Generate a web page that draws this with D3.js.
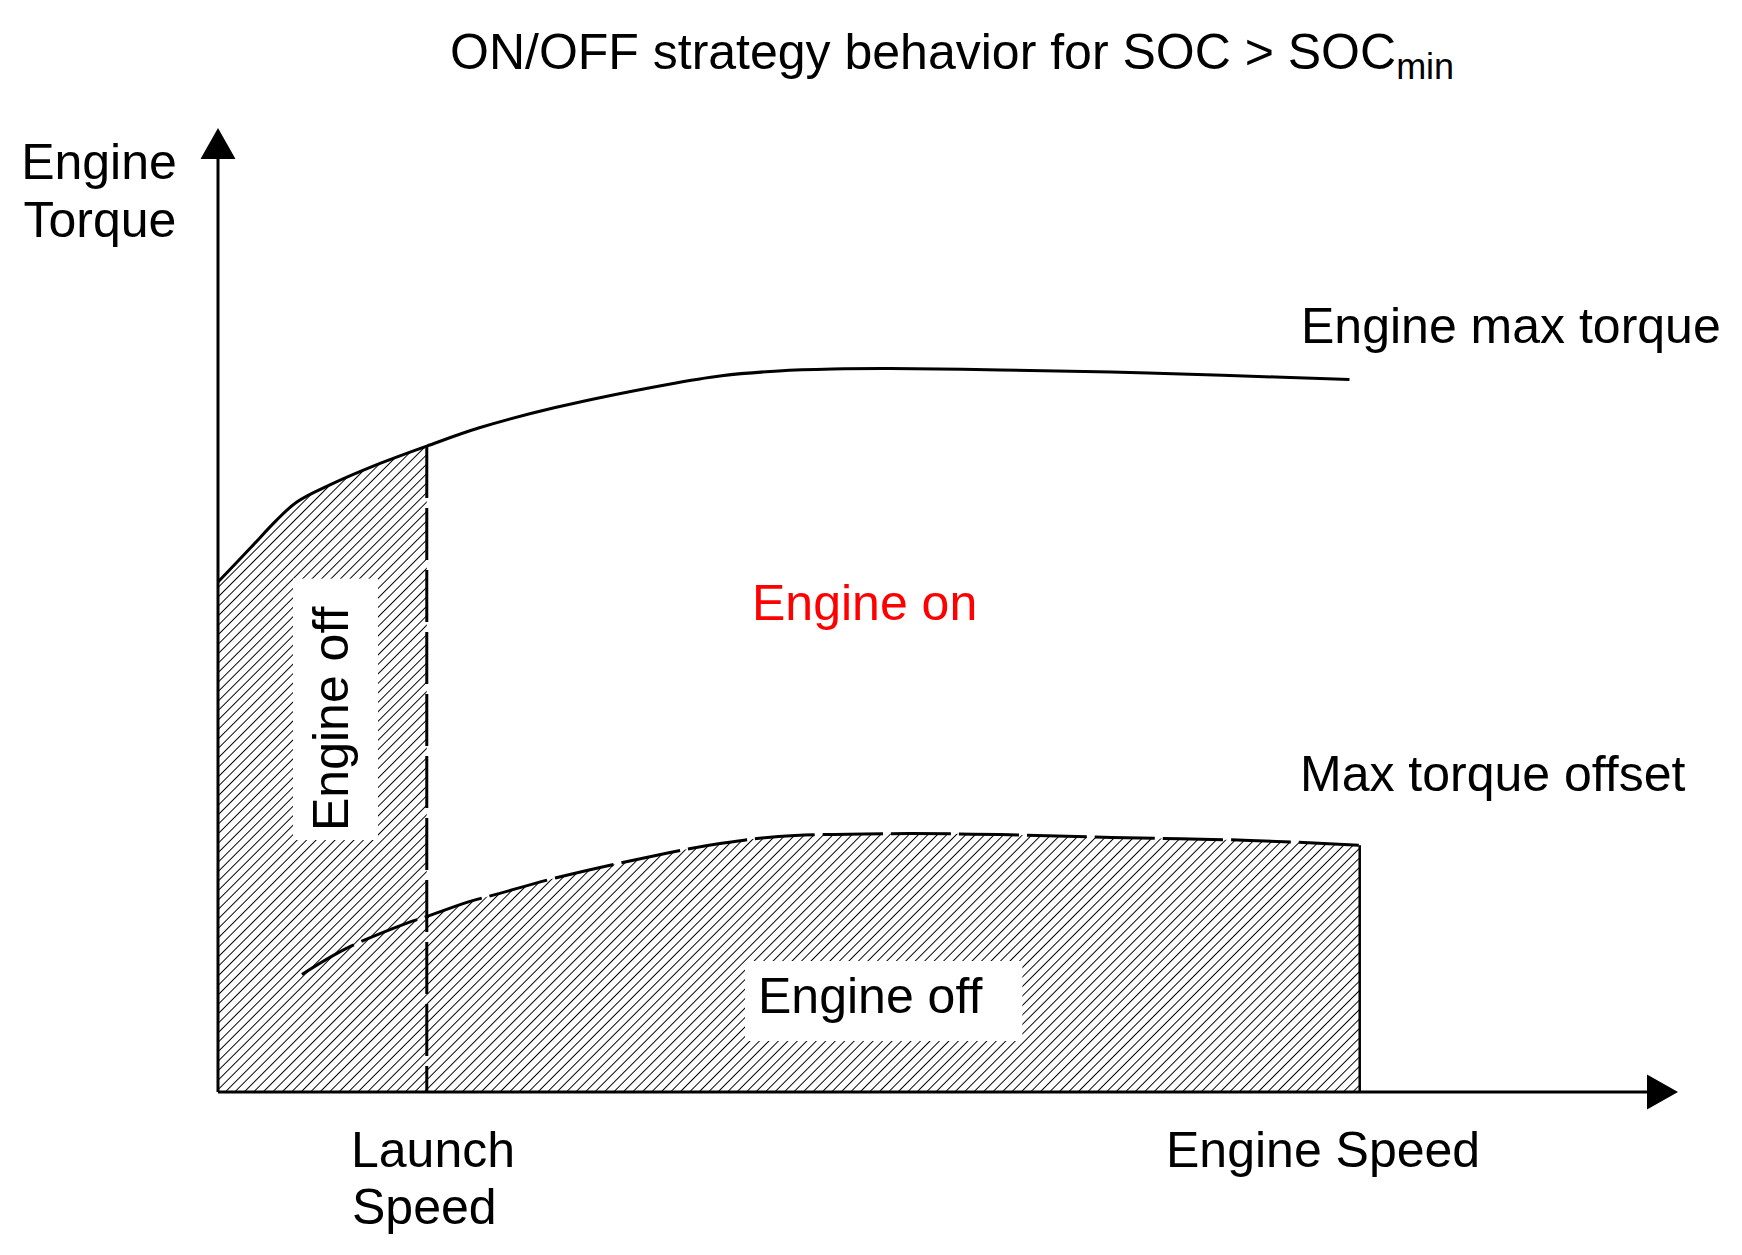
<!DOCTYPE html>
<html>
<head>
<meta charset="utf-8">
<script src="https://cdn.jsdelivr.net/npm/d3@7"></script>
<style>
  body { margin: 0; background: #fff; }
  text { font-family: "Liberation Sans", Arial, Helvetica, sans-serif; fill: #000; }
</style>
</head>
<body>
<div id="chart"></div>
<script>
// curve values (percent of axis length)
const maxTorqueSpeed = [0, 2.2, 4.0, 5.4, 7.7, 11.1, 14.3, 17.9, 23.1, 30.8, 34.5, 38.4, 42.1, 46.0, 53.6, 61.2, 68.8, 77.5];
const maxTorqueValue = [52.9, 56.4, 59.3, 61.2, 63.0, 65.2, 67.0, 68.9, 71.0, 73.4, 74.3, 74.8, 75.0, 75.05, 74.9, 74.7, 74.35, 73.9];
const offsetSpeed = [5.75, 8.8, 12.9, 14.3, 17.1, 19.3, 23.1, 30.8, 34.5, 38.4, 46.0, 53.6, 61.2, 70.7, 78.2];
const offsetValue = [12.2, 14.9, 17.5, 18.2, 19.7, 20.6, 22.2, 24.8, 25.8, 26.5, 26.8, 26.7, 26.4, 26.1, 25.6];
const launchSpeed = 14.3;
const offsetEndSpeed = 78.2;

// texts
const titleMain = "ON/OFF strategy behavior for SOC > SOC";
const titleSub = "min";
const yLabel = ["Engine", "Torque"];
const xLabel = "Engine Speed";
const launchLabel = ["Launch", "Speed"];
const maxLabel = "Engine max torque";
const offsetLabel = "Max torque offset";
const onLabel = "Engine on";
const offLabel = "Engine off";

const W = 1742, H = 1255;
const margin = {top: 128, right: 64, bottom: 163, left: 218},
  width = W - margin.left - margin.right,
  height = H - margin.top - margin.bottom;

const svg = d3.select("#chart").append("svg")
  .attr("width", W).attr("height", H);

// hatch pattern
svg.append("defs").append("pattern")
  .attr("id", "hatch")
  .attr("patternUnits", "userSpaceOnUse")
  .attr("width", 6.7).attr("height", 6.7)
  .attr("patternTransform", "rotate(45)")
  .append("line")
  .attr("x1", 3.35).attr("y1", -1).attr("x2", 3.35).attr("y2", 7.7)
  .attr("stroke", "#000").attr("stroke-width", 1.5)
  .attr("shape-rendering", "crispEdges");

const g = svg.append("g").attr("transform", `translate(${margin.left},${margin.top})`);

const x = d3.scaleLinear().domain([0, 100]).range([0, width]);
const y = d3.scaleLinear().domain([0, 100]).range([height, 0]);

const maxData = maxTorqueSpeed.map((s, i) => ({s: s, v: maxTorqueValue[i]}));
const offData = offsetSpeed.map((s, i) => ({s: s, v: offsetValue[i]}));

const curve = d3.curveCatmullRom.alpha(0.5);
const area = d3.area().curve(curve)
  .x(d => x(d.s)).y0(y(0)).y1(d => y(d.v));
const line = d3.line().curve(curve)
  .x(d => x(d.s)).y(d => y(d.v));

// hatched engine-off regions
g.append("path").datum(maxData.filter(d => d.s <= launchSpeed))
  .attr("d", area).attr("fill", "url(#hatch)");
g.append("path").datum(offData.filter(d => d.s >= launchSpeed))
  .attr("d", area).attr("fill", "url(#hatch)");

// engine max torque curve
g.append("path").datum(maxData)
  .attr("d", line).attr("fill", "none").attr("stroke", "#000").attr("stroke-width", 3);

// max torque offset curve
g.append("path").datum(offData)
  .attr("d", line).attr("fill", "none").attr("stroke", "#000").attr("stroke-width", 3)
  .attr("stroke-dasharray", "60,8");

// launch speed line
const launchTop = maxData.find(d => d.s === launchSpeed).v;
g.append("line")
  .attr("x1", x(launchSpeed)).attr("x2", x(launchSpeed))
  .attr("y1", y(launchTop)).attr("y2", y(0))
  .attr("stroke", "#000").attr("stroke-width", 3).attr("stroke-dasharray", "52,10");

// right edge of offset region
g.append("line")
  .attr("x1", x(offsetEndSpeed)).attr("x2", x(offsetEndSpeed))
  .attr("y1", y(offsetValue[offsetValue.length - 1])).attr("y2", y(0))
  .attr("stroke", "#000").attr("stroke-width", 2.5);

// axes with arrow heads
const ah = 31, aw = 17.5;
g.append("line").attr("x1", x(0)).attr("x2", x(0)).attr("y1", y(0)).attr("y2", y(100) + ah)
  .attr("stroke", "#000").attr("stroke-width", 3);
g.append("path")
  .attr("d", `M${x(0)},${y(100)} L${x(0) - aw},${y(100) + ah} L${x(0) + aw},${y(100) + ah} Z`);
g.append("line").attr("x1", x(0)).attr("x2", x(100) - ah).attr("y1", y(0)).attr("y2", y(0))
  .attr("stroke", "#000").attr("stroke-width", 3);
g.append("path")
  .attr("d", `M${x(100)},${y(0)} L${x(100) - ah},${y(0) - aw} L${x(100) - ah},${y(0) + aw} Z`);

// labels
const fs = 50;
function label(parent, txt, px, py, anchor) {
  return parent.append("text").attr("x", px).attr("y", py)
    .attr("font-size", fs).attr("text-anchor", anchor || "start").text(txt);
}

// title
const title = svg.append("text").attr("x", 450).attr("y", 69).attr("font-size", fs);
title.append("tspan").text(titleMain);
title.append("tspan").attr("font-size", 36).attr("dy", 10).text(titleSub);

label(svg, yLabel[0], 99, 179, "middle");
label(svg, yLabel[1], 100, 237, "middle");
label(svg, maxLabel, 1301, 343);
label(svg, offsetLabel, 1300, 791);
label(svg, onLabel, 752, 620).style("fill", "#ff0000");
label(svg, launchLabel[0], 351, 1167);
label(svg, launchLabel[1], 352, 1224);
label(svg, xLabel, 1166, 1167);

// engine off labels on white boxes
const offLow = svg.append("g");
const t1 = label(offLow, offLabel, 758, 1013);
let bb = t1.node().getBBox();
offLow.insert("rect", "text")
  .attr("x", bb.x - 13).attr("y", bb.y - 7)
  .attr("width", bb.width + 53).attr("height", bb.height + 24)
  .attr("fill", "#fff");

const offUp = svg.append("g").attr("transform", "translate(348,831) rotate(-90)");
const t2 = label(offUp, offLabel, 0, 0);
bb = t2.node().getBBox();
offUp.insert("rect", "text")
  .attr("x", bb.x - 9).attr("y", bb.y - 10)
  .attr("width", bb.width + 37).attr("height", bb.height + 29)
  .attr("fill", "#fff");
</script>
</body>
</html>
